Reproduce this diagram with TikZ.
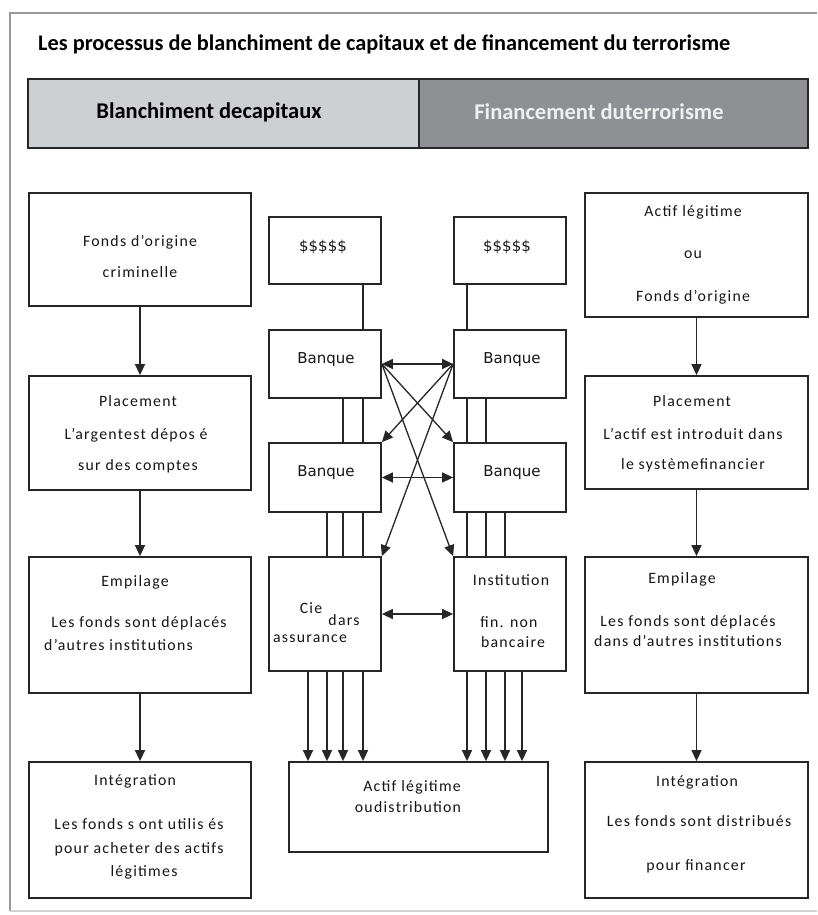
\documentclass[tikz,border=0pt]{standalone}
\usepackage{fontspec}
\setmainfont{Carlito}
\newfontfamily\bodyf[LetterSpace=8]{Carlito}
\newfontfamily\dvf{DejaVu Sans}
\usetikzlibrary{arrows.meta,calc}
\definecolor{hdrL}{HTML}{CDD0D3}
\definecolor{hdrR}{HTML}{8E9093}
\definecolor{ink}{HTML}{262626}
\definecolor{tink}{HTML}{151515}
\newcommand\mytx[4]{\node[txt] (#1) at (#2,#3) {#4};}
\begin{document}
\begin{tikzpicture}[x=1pt,y=-1pt,
 box/.style={draw=ink,line width=1.8pt,fill=white,inner sep=0pt},
 txt/.style={font=\bodyf\fontsize{15.8}{18}\selectfont,text=tink,inner sep=0pt,text height=11pt,text depth=3.5pt},
 btxt/.style={font=\dvf\fontsize{15}{18}\selectfont,text=tink,inner sep=0pt,text height=11pt,text depth=3.5pt},
 htxt/.style={font=\bfseries\fontsize{22.5}{26}\selectfont,inner sep=0pt},
 tip/.style={-{Triangle[length=11pt,width=10pt]}},
 arr/.style={draw=ink,line width=1.5pt,tip},
 dbl/.style={draw=ink,line width=1.5pt,{Triangle[length=11pt,width=10pt]}-{Triangle[length=11pt,width=10pt]}},
 ln/.style={draw=ink,line width=1.5pt}]
\useasboundingbox (0,0) rectangle (817,915);
\fill[white] (0,0) rectangle (817,915);
% frame
\draw[gray!80,line width=1.3pt] (817,13) -- (10,13) -- (10,911);
\draw[gray!35,line width=1.2pt] (10,911) -- (817,911);
% title
\node[htxt,font=\bfseries\fontsize{22.3}{26}\selectfont,anchor=west,text=black] (title) at (38,44) {Les processus de blanchiment de capitaux et de financement du terrorisme};
% header bar
\node[fill=hdrL,draw=ink,line width=1.6pt,minimum width=391pt,minimum height=69pt,inner sep=0pt] (hl) at (223.5,113.5) {};
\node[fill=hdrR,draw=ink,line width=1.6pt,minimum width=389pt,minimum height=69pt,inner sep=0pt] (hr) at (613.5,113.5) {};
\node[htxt,text=black] (hlt) at (209,112) {Blanchiment decapitaux};
\node[htxt,text=white!94!black] (hrt) at (599,112) {Financement duterrorisme};
% left column
\node[box,minimum width=222pt,minimum height=113pt] (fo) at (140,249.5) {};
\node[box,minimum width=222pt,minimum height=114pt] (pl) at (140,433) {};
\node[box,minimum width=222pt,minimum height=136pt] (el) at (140,625) {};
\node[box,minimum width=222pt,minimum height=136pt] (il) at (140,830) {};
\mytx{fo1}{140}{243}{Fonds d’origine}
\mytx{fo2}{140}{274}{criminelle}
\mytx{pl1}{138}{403}{Placement}
\mytx{pl2}{136}{436}{L’argentest dépos é}
\mytx{pl3}{138}{467}{sur des comptes}
\mytx{el1}{135}{583}{Empilage}
\mytx{el2}{139}{624}{Les fonds sont déplacés}
\node[txt,anchor=west] (el3) at (44,647) {d’autres institutions};
\mytx{il1}{135}{782}{Intégration}
\mytx{il2}{139}{826}{Les fonds s ont utilis és}
\mytx{il3}{139}{850}{pour acheter des actifs}
\mytx{il4}{144}{873}{légitimes}
\draw[arr] (fo.south) -- (pl.north);
\draw[arr] (pl.south) -- (el.north);
\draw[arr] (el.south) -- (il.north);
% right column
\node[box,minimum width=223pt,minimum height=124pt] (ar) at (696.5,255) {};
\node[box,minimum width=223pt,minimum height=113pt] (pr) at (696.5,432.5) {};
\node[box,minimum width=223pt,minimum height=136pt] (er) at (696.5,625) {};
\node[box,minimum width=223pt,minimum height=136pt] (ir) at (696.5,830) {};
\mytx{ar1}{693}{213}{Actif légitime}
\mytx{ar2}{693}{255}{ou}
\mytx{ar3}{693}{298}{Fonds d’origine}
\mytx{pr1}{692}{403}{Placement}
\mytx{pr2}{693}{436}{L’actif est introduit dans}
\mytx{pr3}{693}{466}{le systèmefinancier}
\mytx{er1}{682}{580}{Empilage}
\mytx{er2}{688}{623}{Les fonds sont déplacés}
\mytx{er3}{688}{643}{dans d’autres institutions}
\mytx{ir1}{697}{783}{Intégration}
\mytx{ir2}{699}{823}{Les fonds sont distribués}
\mytx{ir3}{696}{867}{pour financer}
\draw[arr] (ar.south) -- (pr.north);
\draw[arr] (pr.south) -- (er.north);
\draw[arr] (er.south) -- (ir.north);
% middle
\node[box,minimum width=112pt,minimum height=67pt] (dl) at (325,250.5) {};
\node[box,minimum width=112pt,minimum height=67pt] (dr) at (510,250.5) {};
\node[box,minimum width=112pt,minimum height=68pt] (b1l) at (325,364) {};
\node[box,minimum width=112pt,minimum height=68pt] (b1r) at (510,364) {};
\node[box,minimum width=112pt,minimum height=69pt] (b2l) at (325,477.5) {};
\node[box,minimum width=112pt,minimum height=69pt] (b2r) at (510,477.5) {};
\node[box,minimum width=112pt,minimum height=114pt] (cie) at (325,614) {};
\node[box,minimum width=112pt,minimum height=114pt] (inst) at (510,614) {};
\node[box,minimum width=259pt,minimum height=90pt] (act) at (418.5,807) {};
\node[btxt] (dlt) at (323,248) {\$\$\$\$\$};
\node[btxt] (drt) at (507,248) {\$\$\$\$\$};
\node[btxt] (b1lt) at (326,360) {Banque};
\node[btxt] (b1rt) at (512,360) {Banque};
\node[btxt] (b2lt) at (326,473) {Banque};
\node[btxt] (b2rt) at (512,473) {Banque};
\mytx{cie1}{311}{610}{Cie}
\mytx{cie2}{344}{622}{dars}
\mytx{cie3}{310}{639}{assurance}
\mytx{in1}{511}{582}{Institution}
\mytx{in2}{509}{624}{fin. non}
\mytx{in3}{513}{644}{bancaire}
\mytx{ac1}{412}{788}{Actif légitime}
\mytx{ac2}{408}{809}{oudistribution}
% vertical links
\draw[ln] ($(dl.south)+(38,0)$) -- ($(b1l.north)+(38,0)$);
\draw[ln] ($(dr.south)+(-43,0)$) -- ($(b1r.north)+(-43,0)$);
\foreach \s in {18,38}{\draw[ln] ($(b1l.south)+(\s,0)$) -- ($(b2l.north)+(\s,0)$);}
\foreach \s in {-43,-24}{\draw[ln] ($(b1r.south)+(\s,0)$) -- ($(b2r.north)+(\s,0)$);}
\foreach \s in {2,18,38}{\draw[ln] ($(b2l.south)+(\s,0)$) -- ($(cie.north)+(\s,0)$);}
\foreach \s in {-43,-24,-5}{\draw[ln] ($(b2r.south)+(\s,0)$) -- ($(inst.north)+(\s,0)$);}
\foreach \s in {-17,2,18,38}{\draw[arr] ($(cie.south)+(\s,0)$) -- ($(cie.south |- act.north)+(\s,0)$);}
\foreach \s in {-43,-24,-5,12}{\draw[arr] ($(inst.south)+(\s,0)$) -- ($(inst.south |- act.north)+(\s,0)$);}
% horizontal double arrows
\draw[dbl] (b1l.east) -- (b1r.west);
\draw[dbl] (b2l.east) -- (b2r.west);
\draw[dbl] (cie.east) -- (inst.west);
% diagonals
\draw[arr,line width=1.3pt] (b1l.east) -- (b2r.north west);
\draw[arr,line width=1.3pt] (b1l.east) -- (inst.north west);
\draw[arr,line width=1.3pt] (b1r.west) -- (b2l.north east);
\draw[arr,line width=1.3pt] (b1r.west) -- (cie.north east);
\end{tikzpicture}
\end{document}
